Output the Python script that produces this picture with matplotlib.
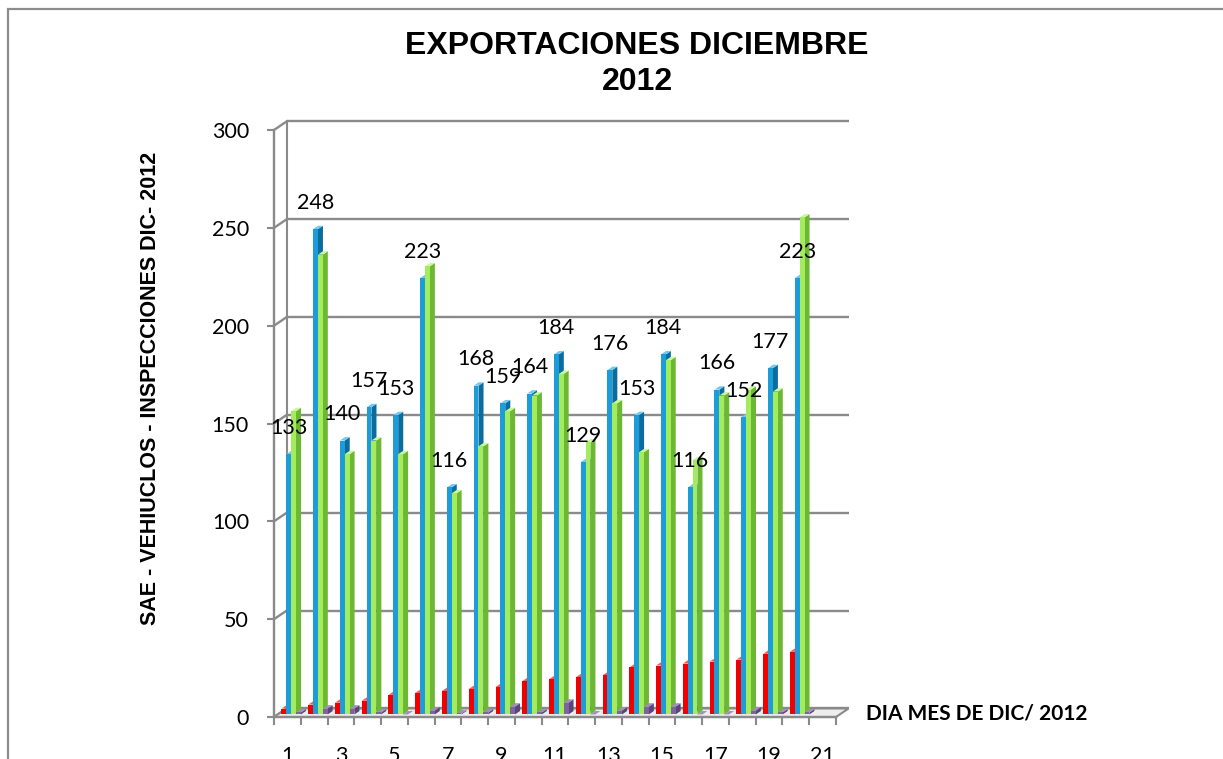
import matplotlib
matplotlib.use("Agg")
import matplotlib.pyplot as plt
from matplotlib.patches import Polygon, Rectangle
import numpy as np

# ---------------- data ----------------
days = list(range(1, 21))
tick_days = list(range(1, 22, 2))
red_vals = [3, 5, 6, 7, 10, 11, 12, 13, 14, 17, 18, 19, 20, 24, 25, 26, 27, 28, 31, 32]
blue_vals = [133, 248, 140, 157, 153, 223, 116, 168, 159, 164, 184, 129, 176, 153, 184, 116, 166, 152, 177, 223]
green_vals = [155, 235, 133, 140, 133, 229, 113, 137, 155, 163, 174, 139, 159, 134, 181, 130, 163, 166, 165, 254]
purple_vals = [1, 3, 3, 1, 0, 2, 0.5, 1, 4, 1, 6, 0, 2, 4, 4, 0, 0, 2, 1, 1]

title = "EXPORTACIONES DICIEMBRE\n2012"
ylabel = "SAE - VEHIUCLOS - INSPECCIONES DIC- 2012"
xlabel = "DIA MES DE DIC/ 2012"

# colours: (front, side, top)
c_red = ("#F00000", "#B00000", "#FF5A5A")
c_blue = ("#1C9CD8", "#0B6C9E", "#72C8F0")
c_green = ("#A2EC5E", "#6DB833", "#C8F79C")
c_purple = ("#7F63A1", "#5A4478", "#A48CC2")

W, H = 1223, 759
fig = plt.figure(figsize=(W / 100, H / 100), dpi=100)

# chart-area border
fig.patches.append(Rectangle((8 / W, 0 - 0.01), 1.1, (H - 9) / H + 0.01,
                             transform=fig.transFigure, fill=False,
                             edgecolor="#8C8C8C", linewidth=1.6))

left, right, top, bottom = 274, 836, 130, 717
ax = fig.add_axes([left / W, (H - bottom) / H, (right - left) / W, (bottom - top) / H])
ax.set_xlim(0.5, 21.5)
ax.set_ylim(0, 300)
ax.patch.set_alpha(0)

grid_c = "#8A8A8A"
dx, dy = 0.47, 4.35
yt = np.arange(0, 301, 50)
# back wall gridlines and side-wall diagonals
for v in yt:
    ax.plot([0.5 + dx, 21.5 + dx], [v + dy, v + dy], color=grid_c, lw=1.7, zorder=1, clip_on=False,
            solid_capstyle="butt")
    ax.plot([0.5, 0.5 + dx], [v, v + dy], color=grid_c, lw=1.7, zorder=1, clip_on=False)
ax.plot([0.5 + dx, 0.5 + dx], [dy, 300 + dy], color=grid_c, lw=1.5, zorder=1, clip_on=False)
# floor
floor = Polygon([(0.5, 0), (21.5, 0), (21.5 + dx, dy), (0.5 + dx, dy)], closed=True,
                facecolor="#EDEDED", edgecolor=grid_c, lw=1.5, zorder=1.5, clip_on=False)
ax.add_patch(floor)

# bars
nser = 4
bw = 0.182
gap = 1 - nser * bw
fx, fy = 0.3 * dx, 0.3 * dy
ddx, ddy = 0.4 * dx, 0.4 * dy
series = [(red_vals, c_red), (blue_vals, c_blue), (green_vals, c_green), (purple_vals, c_purple)]
z = 3.0
for i, d in enumerate(days):
    for k, (vals, cols) in enumerate(series):
        v = vals[i]
        x0 = d - 0.5 + gap / 2 + k * bw + fx
        base = fy
        tp = base + v
        side = Polygon([(x0 + bw, base), (x0 + bw + ddx, base + ddy),
                        (x0 + bw + ddx, tp + ddy), (x0 + bw, tp)], closed=True,
                       facecolor=cols[1], edgecolor="none", zorder=z, clip_on=False)
        topf = Polygon([(x0, tp), (x0 + bw, tp), (x0 + bw + ddx, tp + ddy), (x0 + ddx, tp + ddy)],
                       closed=True, facecolor=cols[2], edgecolor="none", zorder=z, clip_on=False)
        ax.add_patch(side)
        ax.add_patch(topf)
        ax.bar(x0, v, bw, bottom=base, align="edge", color=cols[0], edgecolor="none",
               zorder=z + 0.001, clip_on=False)
        z += 0.01

# data labels for blue series
for i, d in enumerate(days):
    xc = d - 0.5 + gap / 2 + 1 * bw + fx + bw / 2
    ax.annotate(str(blue_vals[i]), (xc, fy + blue_vals[i]), xytext=(0, 19),
                textcoords="offset points", ha="center", va="center",
                fontsize=15.5, family="Lato", color="black", zorder=20, annotation_clip=False)

# axes styling
for s in ["top", "right"]:
    ax.spines[s].set_visible(False)
ax.spines["left"].set_color(grid_c)
ax.spines["left"].set_linewidth(1.7)
ax.spines["bottom"].set_color(grid_c)
ax.spines["bottom"].set_linewidth(1.7)
ax.spines["left"].set_zorder(2)
ax.spines["bottom"].set_zorder(2)

ax.set_yticks(yt)
ax.set_yticklabels([str(v) for v in yt], fontsize=15.5, family="Lato")
ax.tick_params(axis="y", length=5, width=1.5, color=grid_c, pad=13)
ax.set_xticks(tick_days)
ax.set_xticklabels([str(t) for t in tick_days], fontsize=15.5, family="Lato")
ax.set_xticks(np.arange(0.5, 22, 1.0), minor=True)
ax.tick_params(axis="x", which="major", length=0, pad=21)
ax.tick_params(axis="x", which="minor", length=6, width=1.5, color=grid_c)

# titles
fig.text(637 / W, 1 - 64 / H, title, ha="center", va="center", fontsize=23,
         fontweight="bold", family="Liberation Sans", linespacing=1.25)
fig.text(150 / W, 1 - 388 / H, ylabel, ha="center", va="center", rotation=90,
         fontsize=15.5, fontweight="bold", family="Liberation Sans")
fig.text(866 / W, 1 - 713 / H, xlabel, ha="left", va="center", fontsize=15,
         fontweight="bold", family="Lato")

fig.savefig("out.png", dpi=100)
